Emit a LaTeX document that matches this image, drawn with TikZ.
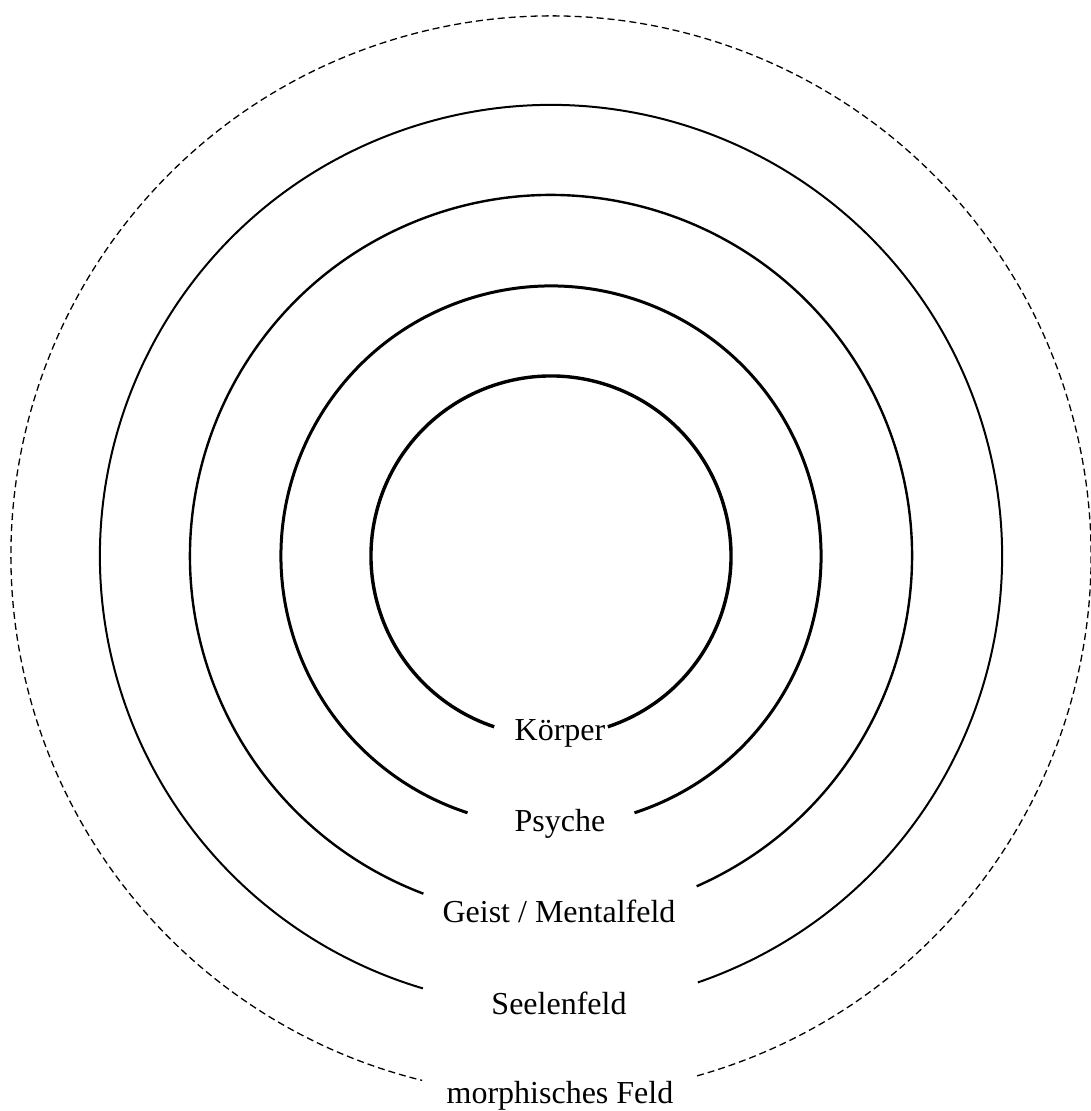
\documentclass[tikz,border=0pt]{standalone}
\usepackage{fontspec}
\setmainfont{Liberation Serif}
\begin{document}
\begin{tikzpicture}[x=1pt,y=1pt,
  ringA/.style={line width=3.4pt},
  ringB/.style={line width=3pt},
  ringC/.style={line width=2.4pt},
  ringD/.style={line width=2pt},
  ringE/.style={line width=1.3pt, dash pattern=on 7pt off 4pt},
  lbl/.style={anchor=base, inner sep=0pt, font=\fontsize{32}{38}\selectfont}]
\useasboundingbox (0,0) rectangle (1091,1111);
\coordinate (c) at (551,555);
% rings, each open at the bottom
\draw[ringA] (c) ++(-71.6:180) arc[start angle=-71.6, end angle=251.6, radius=180];
\draw[ringB] (c) ++(-72:270) arc[start angle=-72, end angle=252, radius=270];
\draw[ringC] (c) ++(-66.2:361) arc[start angle=-66.2, end angle=249.3, radius=361];
\draw[ringD] (c) ++(-71:451) arc[start angle=-71, end angle=253.5, radius=451];
\draw[ringE] (c) ++(-74.3:540) arc[start angle=-74.3, end angle=256.2, radius=540];
% labels
\node[lbl] (koerper) at (560,370) {Körper};
\node[lbl] (psyche) at (560,279) {Psyche};
\node[lbl] (geist) at (559,188) {Geist / Mentalfeld};
\node[lbl] (seele) at (559,96) {Seelenfeld};
\node[lbl] (morph) at (560,8) {morphisches Feld};
\end{tikzpicture}
\end{document}
